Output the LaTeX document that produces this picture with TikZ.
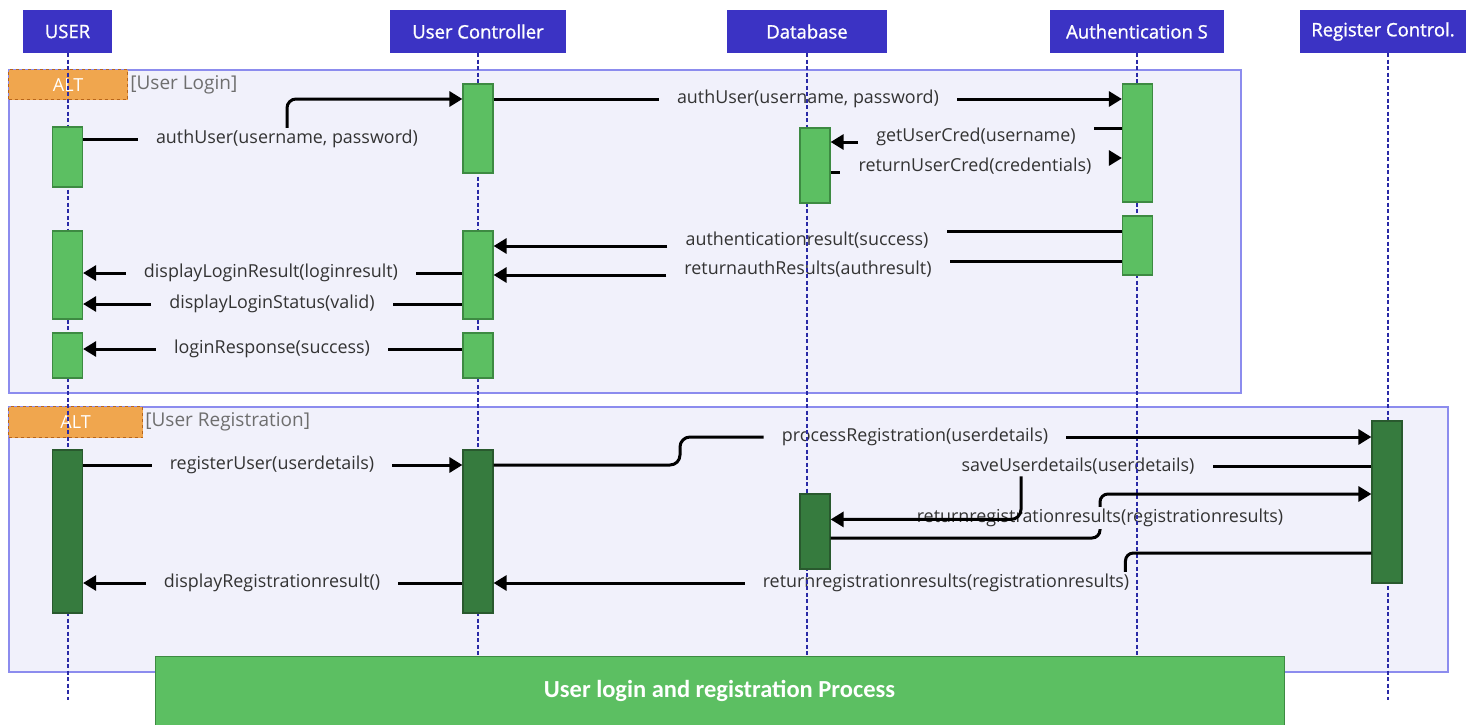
\documentclass[tikz,border=0pt]{standalone}
\usepackage{fontspec}
\setmainfont{Open Sans}
\newfontfamily\titlefont{Carlito}
\newfontfamily\hdrfont{Open Sans}[UprightFeatures={FakeBold=1.2}]
\usetikzlibrary{arrows.meta}
\definecolor{hdrblue}{HTML}{3B33C4}
\definecolor{lifeblue}{HTML}{2A2AA6}
\definecolor{frameedge}{HTML}{8C8CEE}
\definecolor{framefill}{HTML}{F1F1FB}
\definecolor{altfill}{HTML}{F0A64E}
\definecolor{altedge}{HTML}{B8651A}
\definecolor{barlight}{HTML}{5CBF62}
\definecolor{barlightedge}{HTML}{3D8A42}
\definecolor{bardark}{HTML}{367B3E}
\definecolor{bardarkedge}{HTML}{29592E}
\definecolor{msgtext}{HTML}{333333}
\definecolor{guardtext}{HTML}{6E6E6E}
\tikzset{
  header/.style={fill=hdrblue, text=white, minimum height=43pt, inner sep=0pt,
    font=\hdrfont\fontsize{18.5}{22}\selectfont},
  life/.style={lifeblue, line width=2pt, dash pattern=on 4pt off 2.5pt},
  altframe/.style={draw=frameedge, fill=framefill, line width=2pt, anchor=north west, inner sep=0pt},
  alttag/.style={draw=altedge, fill=altfill, dashed, line width=1.2pt, anchor=north west,
    inner sep=0pt, text=white, font=\fontsize{18}{21}\selectfont},
  guard/.style={text=guardtext, inner sep=2pt, font=\fontsize{19}{22}\selectfont},
  lbar/.style={draw=barlightedge, fill=barlight, line width=1.2pt, minimum width=30pt, inner sep=0pt},
  dbar/.style={draw=bardarkedge, fill=bardark, line width=1.2pt, minimum width=30pt, inner sep=0pt},
  msg/.style={text=msgtext, inner xsep=18pt, inner ysep=2pt, font=\fontsize{17.9}{21}\selectfont},
  ln/.style={line width=3pt},
  arr/.style={line width=3pt, -{Triangle[length=13pt,width=15pt]}},
  titlebox/.style={fill=barlight, draw=barlightedge, line width=1pt, text=white,
    font=\titlefont\bfseries\fontsize{24.5}{29}\selectfont}
}
\begin{document}
\begin{tikzpicture}[x=1pt,y=-1pt]
\useasboundingbox (0,0) rectangle (1468,724);

% combined fragments
\node[altframe, minimum width=1232pt, minimum height=323pt] (f1) at (8,69) {};
\node[altframe, minimum width=1439pt, minimum height=265pt] (f2) at (8,406) {};
\node[alttag, minimum width=119pt, minimum height=30pt] (t1) at (8,69) {ALT};
\node[alttag, minimum width=134pt, minimum height=31pt] (t2) at (8,406) {ALT};
\node[guard, anchor=west] (g1) at (t1.east) {[User Login]};
\node[guard, anchor=west] (g2) at (t2.east) {[User Registration]};

% participants
\node[header, minimum width=89pt]  (hU) at (67.5,31.5) {USER};
\node[header, minimum width=176pt] (hC) at (478,31.5) {User Controller};
\node[header, minimum width=160pt] (hD) at (807,31.5) {Database};
\node[header, minimum width=174pt] (hA) at (1137,31.5) {Authentication S};
\node[header, minimum width=166pt] (hR) at (1383,31.5) {Register Control.};

% message labels
\node[msg] (m1)  at (287,139) {authUser(username, password)};
\node[msg] (m2)  at (808,99)  {authUser(username, password)};
\node[msg] (m3)  at (976,137) {getUserCred(username)};
\node[msg] (m4)  at (975,166) {returnUserCred(credentials)};
\node[msg] (m5)  at (807,240) {authenticationresult(success)};
\node[msg] (m6)  at (808,269) {returnauthResults(authresult)};
\node[msg] (m7)  at (271,273) {displayLoginResult(loginresult)};
\node[msg] (m8)  at (272,304) {displayLoginStatus(valid)};
\node[msg] (m9)  at (272,349) {loginResponse(success)};
\node[msg] (m10) at (272,465) {registerUser(userdetails)};
\node[msg] (m11) at (915,437) {processRegistration(userdetails)};
\node[msg] (m12) at (1078,466) {saveUserdetails(userdetails)};
\node[msg] (m13) at (1100,518) {returnregistrationresults(registrationresults)};
\node[msg] (m14) at (946,583) {returnregistrationresults(registrationresults)};
\node[msg] (m15) at (272,583) {displayRegistrationresult()};

% lifelines
\coordinate (lifeend) at (0,700);
\draw[life] (hU.south) -- (hU.south |- lifeend);
\draw[life] (hC.south) -- (hC.south |- lifeend);
\draw[life] (hD.south) -- (hD.south |- lifeend);
\draw[life] (hA.south) -- (hA.south |- lifeend);
\draw[life] ([xshift=5pt]hR.south) -- ([xshift=5pt]hR.south |- lifeend);

% activation bars: login
\node[lbar, minimum height=60pt]  (u1) at (67.5,157) {};
\node[lbar, minimum height=89pt]  (c1) at (478,128.5) {};
\node[lbar, minimum height=75pt]  (d1) at (815,165.5) {};
\node[lbar, minimum height=118pt] (a1) at (1137.5,143) {};
\node[lbar, minimum height=59pt]  (a2) at (1137.5,245.5) {};
\node[lbar, minimum height=88pt]  (u2) at (67.5,275) {};
\node[lbar, minimum height=88pt]  (c2) at (478,275) {};
\node[lbar, minimum height=45pt]  (u3) at (67.5,355.5) {};
\node[lbar, minimum height=45pt]  (c3) at (478,355.5) {};
% activation bars: registration
\node[dbar, minimum height=163pt] (u4) at (67.5,531.5) {};
\node[dbar, minimum height=163pt] (c4) at (478,531.5) {};
\node[dbar, minimum height=75pt]  (d2) at (815,531.5) {};
\node[dbar, minimum height=162pt] (r1) at (1387,502) {};

% login messages
\draw[ln] (u1.east |- m1) -- (m1.west);
\draw[arr, rounded corners=9pt] (m1.north) |- (c1.west |- m2);
\draw[ln] (c1.east |- m2) -- (m2.west);
\draw[arr] (m2.east) -- (a1.west |- m2);

\coordinate (p3a) at ([yshift=9pt]m3.east);
\coordinate (p3b) at ([yshift=-5pt]m3.west);
\draw[ln] (a1.west |- p3a) -- (p3a);
\draw[arr] (p3b) -- (d1.east |- p3b);

\coordinate (p4a) at ([yshift=-6pt]m4.west);
\coordinate (p4b) at ([yshift=8pt]m4.east);
\draw[ln] (d1.east |- p4a) -- (p4a);
\draw[arr] (p4b) -- (a1.west |- p4b);

\coordinate (p5a) at ([yshift=9pt]m5.east);
\coordinate (p5b) at ([yshift=-6pt]m5.west);
\draw[ln] (a2.west |- p5a) -- (p5a);
\draw[arr] (p5b) -- (c2.east |- p5b);

\coordinate (p6a) at ([yshift=8pt]m6.east);
\coordinate (p6b) at ([yshift=-6pt]m6.west);
\draw[ln] (a2.west |- p6a) -- (p6a);
\draw[arr] (p6b) -- (c2.east |- p6b);

\draw[ln] (c2.west |- m7) -- (m7.east);
\draw[arr] (m7.west) -- (u2.east |- m7);
\draw[ln] (c2.west |- m8) -- (m8.east);
\draw[arr] (m8.west) -- (u2.east |- m8);
\draw[ln] (c3.west |- m9) -- (m9.east);
\draw[arr] (m9.west) -- (u3.east |- m9);

% registration messages
\draw[ln] (u4.east |- m10) -- (m10.west);
\draw[arr] (m10.east) -- (c4.west |- m10);

\coordinate (k11) at (680,465);
\draw[ln, rounded corners=10pt] (c4.east |- k11) -- (k11) -- (k11 |- m11) -- (m11.west);
\draw[arr] (m11.east) -- (r1.west |- m11);

\draw[ln] (r1.west |- m12) -- (m12.east);
\coordinate (k12) at ([xshift=-57pt,yshift=-43pt]m12.south);
\draw[arr, rounded corners=10pt] ([xshift=-57pt]m12.south) |- (d2.east |- k12);

\coordinate (k13a) at ([yshift=-20pt]m13.center);
\coordinate (k13b) at ([yshift=24pt]m13.center);
\draw[ln, rounded corners=8pt] (d2.east |- k13a) -| (m13.south);
\draw[arr, rounded corners=8pt] (m13.north) |- (r1.west |- k13b);

\coordinate (k14) at ([yshift=30pt]m14.center);
\draw[ln, rounded corners=8pt] (r1.west |- k14) -| ([xshift=-22pt]m14.north east);
\draw[arr] (m14.west) -- (c4.east |- m14);

\draw[ln] (c4.west |- m15) -- (m15.east);
\draw[arr] (m15.west) -- (u4.east |- m15);

% caption bar
\node[titlebox, minimum width=1129pt, minimum height=70pt] (cap) at (719.5,691) {User login and registration Process};
\end{tikzpicture}
\end{document}
